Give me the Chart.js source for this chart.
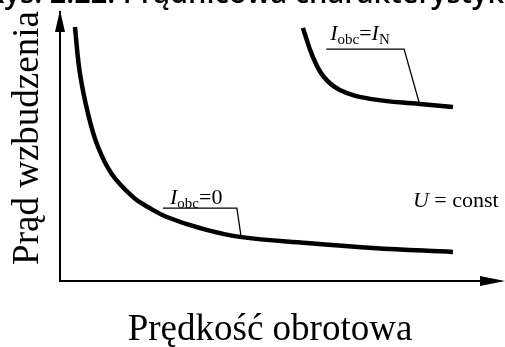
<!DOCTYPE html>
<html lang="pl">
<head>
<meta charset="utf-8">
<title>Charakterystyka regulacyjna</title>
<script src="https://cdn.jsdelivr.net/npm/chart.js@4.4.1/dist/chart.umd.min.js"></script>
<style>
  html, body { margin: 0; padding: 0; background: #fff; }
  #wrap { width: 505px; height: 347px; overflow: hidden; }
</style>
</head>
<body>
<div id="wrap"><canvas id="chart" width="505" height="347"></canvas></div>
<script>
// prędkość obrotowa / prąd wzbudzenia, jednostki umowne (0..10)
var speedNoLoad   = [0.34, 0.45, 0.64, 0.86, 1.18, 1.66, 2.0, 2.43, 3.18, 4.09, 5.61, 7.11, 8.93];
var currentNoLoad = [9.44, 7.75, 6.20, 5.00, 3.97, 3.12, 2.75, 2.38, 1.97, 1.64, 1.41, 1.23, 1.08];

var speedRated   = [5.52, 5.73, 5.98, 6.36, 7.05, 8.18, 8.93];
var currentRated = [9.41, 8.40, 7.62, 7.10, 6.77, 6.58, 6.47];

// odnośniki do opisów krzywych
var leaderNoLoadX = [2.34, 4.02, 4.11];
var leaderNoLoadY = [2.71, 2.71, 1.71];
var leaderRatedX  = [6.05, 7.82, 8.16];
var leaderRatedY  = [8.62, 8.62, 6.65];

var axisTitleX = 'Prędkość obrotowa';
var axisTitleY = 'Prąd wzbudzenia';
var captionText = 'Rys. 2.22. Prądnicowa charakterystyka regulacyjna';

function pts(xs, ys) {
  return xs.map(function (x, i) { return { x: x, y: ys[i] }; });
}

// opisy: [x, y] w jednostkach osi + fragmenty tekstu
var labels = [
  { at: [2.5, 2.86], parts: [{ t: 'I', it: true }, { t: 'obc', sub: true }, { t: '=0' }] },
  { at: [6.14, 8.96], parts: [{ t: 'I', it: true }, { t: 'obc', sub: true }, { t: '=' }, { t: 'I', it: true }, { t: 'N', sub: true }] },
  { at: [8.02, 2.75], parts: [{ t: 'U', it: true }, { t: ' = const' }] }
];

var SERIF = '"Liberation Serif", "DejaVu Serif", serif';

function drawParts(ctx, parts, x, y) {
  parts.forEach(function (p) {
    var size = p.sub ? 15 : 22;
    ctx.font = (p.it ? 'italic ' : '') + size + 'px ' + SERIF;
    ctx.fillText(p.t, x, p.sub ? y + 4 : y);
    x += ctx.measureText(p.t).width;
  });
}

var decorPlugin = {
  id: 'decor',
  afterDraw: function (chart) {
    var ctx = chart.ctx;
    var area = chart.chartArea;
    var sx = chart.scales.x, sy = chart.scales.y;
    ctx.save();
    ctx.fillStyle = '#000';

    // groty osi
    ctx.beginPath();
    ctx.moveTo(area.left, area.top - 2);
    ctx.lineTo(area.left - 5, area.top + 20);
    ctx.lineTo(area.left + 5, area.top + 20);
    ctx.closePath();
    ctx.fill();
    ctx.beginPath();
    ctx.moveTo(area.right + 5, area.bottom);
    ctx.lineTo(area.right - 20, area.bottom - 5);
    ctx.lineTo(area.right - 20, area.bottom + 5);
    ctx.closePath();
    ctx.fill();

    // opisy krzywych
    ctx.textBaseline = 'alphabetic';
    ctx.textAlign = 'left';
    labels.forEach(function (l) {
      drawParts(ctx, l.parts, sx.getPixelForValue(l.at[0]), sy.getPixelForValue(l.at[1]));
    });

    // tytuły osi
    ctx.font = '37px ' + SERIF;
    ctx.textAlign = 'center';
    ctx.fillText(axisTitleX, 270, 340);
    ctx.save();
    ctx.translate(38, 138);
    ctx.rotate(-Math.PI / 2);
    ctx.font = '37px ' + SERIF;
    ctx.fillText(axisTitleY, 0, 0);
    ctx.restore();

    // ucięty podpis rysunku
    ctx.font = '600 29px "Open Sans", sans-serif';
    ctx.textAlign = 'left';
    ctx.fillText(captionText, -14, 3);
    ctx.restore();
  }
};

var curve = { borderColor: '#000', borderWidth: 4.5, pointRadius: 0, tension: 0.4, fill: false };
var leader = { borderColor: '#000', borderWidth: 1.3, pointRadius: 0, tension: 0, fill: false };

new Chart(document.getElementById('chart'), {
  type: 'line',
  data: {
    datasets: [
      Object.assign({ data: pts(speedNoLoad, currentNoLoad) }, curve),
      Object.assign({ data: pts(speedRated, currentRated) }, curve),
      Object.assign({ data: pts(leaderNoLoadX, leaderNoLoadY) }, leader),
      Object.assign({ data: pts(leaderRatedX, leaderRatedY) }, leader)
    ]
  },
  options: {
    responsive: false,
    animation: false,
    layout: { padding: { left: 60, top: 12, right: 5, bottom: 66 } },
    plugins: { legend: { display: false }, tooltip: { enabled: false } },
    scales: {
      x: {
        type: 'linear', min: 0, max: 10,
        grid: { display: false, drawTicks: false },
        ticks: { display: false },
        border: { display: true, color: '#000', width: 2 }
      },
      y: {
        type: 'linear', min: 0, max: 10,
        grid: { display: false, drawTicks: false },
        ticks: { display: false },
        border: { display: true, color: '#000', width: 2 }
      }
    }
  },
  plugins: [decorPlugin]
});
</script>
</body>
</html>
